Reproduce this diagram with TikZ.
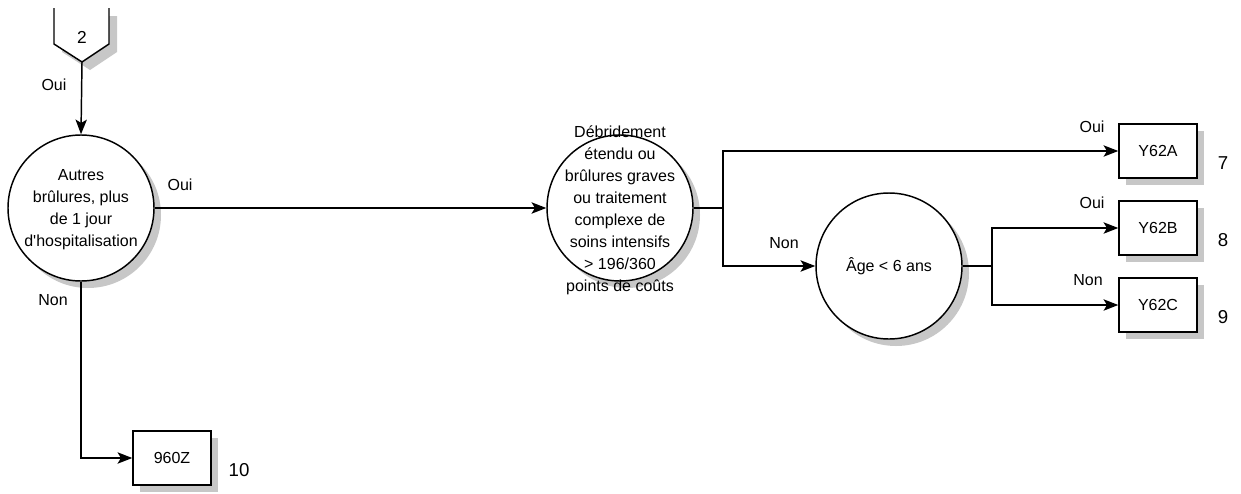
\documentclass[tikz,border=0pt]{standalone}
\usepackage{fontspec}
\setmainfont{Liberation Sans}
\usetikzlibrary{arrows.meta,shadows}
\tikzset{
  x=0.75pt, y=-0.75pt,
  every node/.style={font=\fontsize{12}{16.5}\selectfont},
  shad/.style={drop shadow={shadow xshift=5.25pt, shadow yshift=-5.25pt, fill=black!22, opacity=1}},
  circ/.style={circle, draw, line width=1.1pt, fill=white, minimum size=109.5pt, inner sep=0pt, shad},
  box/.style={rectangle, draw, line width=1.1pt, fill=white, minimum width=58.5pt, minimum height=40.5pt, inner sep=0pt, shad},
  conn/.style={line width=1.1pt, -{Stealth[length=11pt,width=8.5pt,inset=2.5pt]}},
  plain/.style={line width=1.1pt},
  lbl/.style={inner sep=0pt},
  num/.style={inner sep=0pt, font=\fontsize{14}{16}\selectfont},
}
\begin{document}
\begin{tikzpicture}
\useasboundingbox (0,0) rectangle (1241,493);
% pentagon connector "2"
\fill[black!22] (62,16) -- (62,52) -- (90,70) -- (117,52) -- (117,16) -- cycle;
\fill[white] (54,8) -- (54,44) -- (82,62) -- (109,44) -- (109,8) -- cycle;
\draw[plain, line join=miter] (54,8) -- (54,44) -- (82,62) -- (109,44) -- (109,8);
\node[lbl, font=\fontsize{13}{15}\selectfont] (p2) at (82,37) {2};
\coordinate (p2b) at (82,62);

\node[circ] (c1) at (81,208) {};
\node[lbl, align=center] (c1t) at (81,210) {Autres\\brûlures, plus\\de 1 jour\\d\textquotesingle hospitalisation};

\node[circ] (c2) at (620,208) {};
\node[lbl, align=center] (c2t) at (620,210) {Débridement\\étendu ou\\brûlures graves\\ou traitement\\complexe de\\soins intensifs\\> 196/360\\points de coûts};

\node[circ] (c3) at (889,266) {};
\node[lbl] (c3t) at (889,266) {Âge < 6 ans};

\node[box] (ba) at (1158,151) {Y62A};
\node[box] (bb) at (1158,228) {Y62B};
\node[box] (bc) at (1158,305) {Y62C};
\node[box] (bz) at (172,458) {960Z};

\node[num] (n7) at (1223,163) {7};
\node[num] (n8) at (1223,240) {8};
\node[num] (n9) at (1223,317) {9};
\node[num] (n10) at (239,470) {10};

% connectors
\draw[conn] (p2b) -- (c1.north);
\draw[conn] (c1.east) -- (c2.west);
\coordinate (j1) at (723,208);
\draw[plain] (c2.east) -- (j1);
\draw[conn] (j1) |- (ba.west);
\draw[conn] (j1) |- (c3.west);
\coordinate (j2) at (992,266);
\draw[plain] (c3.east) -- (j2);
\draw[conn] (j2) |- (bb.west);
\draw[conn] (j2) |- (bc.west);
\draw[conn] (c1.south) |- (bz.west);

% labels
\node[lbl] (l1) at (54,85) {Oui};
\node[lbl] (l2) at (180,185) {Oui};
\node[lbl] (l3) at (53,300) {Non};
\node[lbl] (l4) at (784,243) {Non};
\node[lbl] (l5) at (1092,127) {Oui};
\node[lbl] (l6) at (1092,203) {Oui};
\node[lbl] (l7) at (1088,280) {Non};
\end{tikzpicture}
\end{document}
